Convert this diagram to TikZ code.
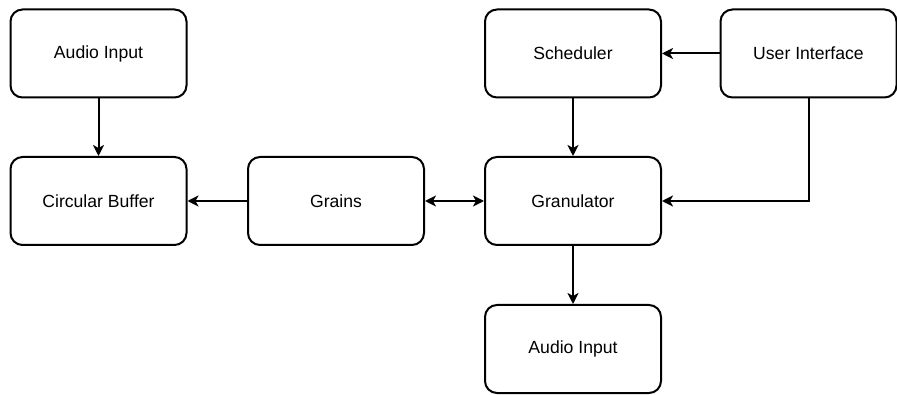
\documentclass[tikz,border=0pt]{standalone}
\usepackage{fontspec}
\setmainfont{Liberation Sans}
\usetikzlibrary{arrows.meta}
\tikzset{
	block/.style={draw=black, line width=2pt, rounded corners=12pt, fill=white,
		minimum width=176pt, minimum height=88pt, inner sep=0pt,
		font=\fontsize{17.6}{20}\selectfont},
	flow/.style={line width=2pt, -{Stealth[length=11pt,width=11pt,inset=3pt]}},
}
\begin{document}
\begin{tikzpicture}[x=1pt,y=-1pt]
	\useasboundingbox (0,0) rectangle (897,395);
	
	\node[block] (audioin) at (98.5,53.5) {Audio Input};
	\node[block] (buffer) at (98.5,201) {Circular Buffer};
	\node[block] (grains) at (336,201) {Grains};
	\node[block] (granul) at (573,201) {Granulator};
	\node[block] (sched) at (573,53.5) {Scheduler};
	\node[block] (ui) at (808.5,53.5) {User Interface};
	\node[block] (audioout) at (573,349) {Audio Input};
	
	\draw[flow] (audioin) -- (buffer);
	\draw[flow] (grains) -- (buffer);
	\draw[flow, {Stealth[length=11pt,width=11pt,inset=3pt]}-{Stealth[length=11pt,width=11pt,inset=3pt]}] (grains) -- (granul);
	\draw[flow] (sched) -- (granul);
	\draw[flow] (ui) -- (sched);
	\draw[flow] (ui.south) |- (granul.east);
	\draw[flow] (granul) -- (audioout);
\end{tikzpicture}
\end{document}
